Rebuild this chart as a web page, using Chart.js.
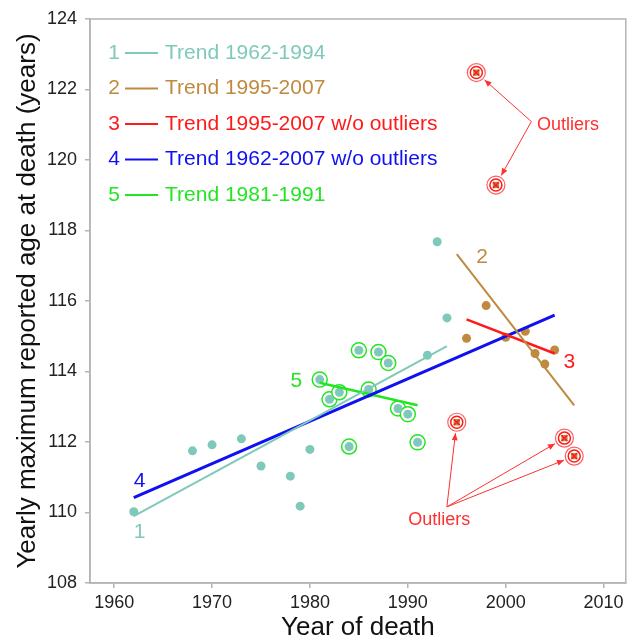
<!DOCTYPE html>
<html>
<head>
<meta charset="utf-8">
<script src="https://cdn.jsdelivr.net/npm/chart.js@4.4.0/dist/chart.umd.min.js"></script>
<style>
  body { margin: 0; background: #fff; }
  #wrap { width: 636px; height: 641px; }
</style>
</head>
<body>
<div id="wrap"><canvas id="myChart" width="636" height="641"></canvas></div>
<script>
// ===== data =====
const earlyYears = [1962, 1968, 1970, 1973, 1975, 1978, 1979, 1980, 1981, 1982, 1983, 1984, 1985, 1986, 1987, 1988, 1989, 1990, 1991, 1992, 1993, 1994];
const earlyAges  = [110.02, 111.75, 111.92, 112.09, 111.32, 111.03, 110.18, 111.79, 113.77, 113.21, 113.41, 111.87, 114.6, 113.49, 114.55, 114.24, 112.95, 112.79, 111.99, 114.46, 117.68, 115.52];
const lateYears = [1996, 1998, 2000, 2002, 2003, 2004, 2005];
const lateAges  = [114.94, 115.87, 114.97, 115.14, 114.51, 114.21, 114.61];
const outlierYears = [1995, 1997, 1999, 2006, 2007];
const outlierAges  = [112.56, 122.48, 119.29, 112.11, 111.6];
const circledYears = [1981, 1982, 1983, 1984, 1985, 1986, 1987, 1988, 1989, 1990, 1991];

// trend lines (end points)
const trend1Years = [1962, 1994];   const trend1Ages = [109.9, 114.72];
const trend2Years = [1995, 2007];   const trend2Ages = [117.33, 113.04];
const trend3Years = [1996, 2005];   const trend3Ages = [115.48, 114.51];
const trend4Years = [1962, 2005];   const trend4Ages = [110.42, 115.6];
const trend5Years = [1981, 1991];   const trend5Ages = [113.68, 113.04];

const legendLabels = ["Trend 1962-1994", "Trend 1995-2007", "Trend 1995-2007 w/o outliers", "Trend 1962-2007 w/o outliers", "Trend 1981-1991"];
const xTicks = [1960, 1970, 1980, 1990, 2000, 2010];
const yTicks = [108, 110, 112, 114, 116, 118, 120, 122, 124];

// colours
const TEAL = "#7fc9bb", BROWN = "#bf8a3f", RED = "#ff1a1a", BLUE = "#1010f0", GREEN = "#22e622";
const trendColors = [TEAL, BROWN, RED, BLUE, GREEN];
const FONT = "'Liberation Sans', Arial, sans-serif";

function pts(xs, ys) { return xs.map((x, i) => ({x: x, y: ys[i]})); }
const circledAges = circledYears.map(y => earlyAges[earlyYears.indexOf(y)]);

function trendSet(xs, ys, color, width) {
    return {
        type: "line", data: pts(xs, ys), borderColor: color, borderWidth: width,
        pointRadius: 0, fill: false, order: 1
    };
}

// legend + annotations drawn on the canvas
const notesPlugin = {
    id: "notes",
    afterDatasetsDraw(chart) {
        const ctx = chart.ctx, xs = chart.scales.x, ys = chart.scales.y, a = chart.chartArea;
        ctx.save();

        // frame (top + right)
        ctx.strokeStyle = "#b4b4b4";
        ctx.lineWidth = 1.5;
        ctx.strokeRect(a.left, a.top, a.right - a.left, a.bottom - a.top);

        // numbers next to the lines
        ctx.font = "21px " + FONT;
        ctx.textAlign = "center";
        ctx.textBaseline = "middle";
        const nums = [["1", TEAL, 1962.6, 109.45], ["4", BLUE, 1962.6, 110.9], ["5", GREEN, 1978.6, 113.73],
                      ["2", BROWN, 1997.6, 117.25], ["3", RED, 2006.5, 114.27]];
        nums.forEach(n => {
            ctx.fillStyle = n[1];
            ctx.fillText(n[0], xs.getPixelForValue(n[2]), ys.getPixelForValue(n[3]));
        });

        // legend
        legendLabels.forEach((lab, i) => {
            const y = a.top + 34 + i * 35.5;
            ctx.fillStyle = trendColors[i];
            ctx.strokeStyle = trendColors[i];
            ctx.textAlign = "center";
            ctx.fillText(String(i + 1), a.left + 24, y);
            ctx.lineWidth = 2;
            ctx.beginPath();
            ctx.moveTo(a.left + 35, y);
            ctx.lineTo(a.left + 68, y);
            ctx.stroke();
            ctx.textAlign = "left";
            ctx.fillText(lab, a.left + 75, y);
        });

        // outlier arrows
        ctx.strokeStyle = "#ff3030";
        ctx.fillStyle = "#ff3030";
        ctx.lineWidth = 1;
        const groups = [
            {from: [2002.62, 121.09], to: [1, 2], text: [2003.2, 120.99, "left"]},
            {from: [1993.99, 110.16], to: [0, 3, 4], text: [1993.2, 109.78, "center"]}
        ];
        groups.forEach(g => {
            const x0 = xs.getPixelForValue(g.from[0]), y0 = ys.getPixelForValue(g.from[1]);
            g.to.forEach(k => {
                const x1 = xs.getPixelForValue(outlierYears[k]), y1 = ys.getPixelForValue(outlierAges[k]);
                const d = Math.hypot(x1 - x0, y1 - y0), ux = (x1 - x0) / d, uy = (y1 - y0) / d;
                const ex = x1 - ux * 11, ey = y1 - uy * 11;
                ctx.beginPath();
                ctx.moveTo(x0, y0);
                ctx.lineTo(ex, ey);
                ctx.stroke();
                ctx.beginPath();
                ctx.moveTo(ex, ey);
                ctx.lineTo(ex - ux * 7 - uy * 3, ey - uy * 7 + ux * 3);
                ctx.lineTo(ex - ux * 7 + uy * 3, ey - uy * 7 - ux * 3);
                ctx.closePath();
                ctx.fill();
            });
            ctx.font = "18px " + FONT;
            ctx.textAlign = g.text[2];
            ctx.fillText("Outliers", xs.getPixelForValue(g.text[0]), ys.getPixelForValue(g.text[1]));
        });
        ctx.restore();
    }
};

new Chart(document.getElementById("myChart"), {
    type: "scatter",
    data: {
        datasets: [
            trendSet(trend1Years, trend1Ages, TEAL, 2),
            trendSet(trend2Years, trend2Ages, BROWN, 2),
            trendSet(trend3Years, trend3Ages, RED, 2.5),
            trendSet(trend4Years, trend4Ages, BLUE, 3),
            trendSet(trend5Years, trend5Ages, GREEN, 2.5),
            // points
            {data: pts(earlyYears, earlyAges), backgroundColor: TEAL, borderWidth: 0, pointRadius: 4.5, order: 5},
            {data: pts(lateYears, lateAges), backgroundColor: BROWN, borderWidth: 0, pointRadius: 4.5, order: 5},
            // outliers: brown square, red x, two red rings
            {data: pts(outlierYears, outlierAges), pointStyle: "crossRot", borderColor: RED, borderWidth: 1.5, pointRadius: 4, order: 4},
            {data: pts(outlierYears, outlierAges), pointStyle: "rect", backgroundColor: BROWN, borderWidth: 0, pointRadius: 4.5, order: 6},
            {data: pts(outlierYears, outlierAges), backgroundColor: "rgba(0,0,0,0)", borderColor: RED, borderWidth: 1.5, pointRadius: 6, order: 6},
            {data: pts(outlierYears, outlierAges), backgroundColor: "rgba(0,0,0,0)", borderColor: "rgba(255,40,40,0.75)", borderWidth: 1.2, pointRadius: 9, order: 6},
            // green rings round 1981-1991
            {data: pts(circledYears, circledAges), backgroundColor: "#fff", borderColor: GREEN, borderWidth: 1.5, pointRadius: 7.5, order: 7}
        ]
    },
    options: {
        responsive: false,
        animation: false,
        events: [],
        layout: {padding: {top: 19, right: 3, left: 0, bottom: 0}},
        plugins: {legend: {display: false}, tooltip: {enabled: false}},
        scales: {
            x: {
                type: "linear", min: 1957.53, max: 2012.27,
                afterBuildTicks: s => { s.ticks = xTicks.map(v => ({value: v})); },
                afterFit: s => { s.height = 58; },
                grid: {drawOnChartArea: false, tickLength: 5, color: "#b4b4b4", lineWidth: 1.5},
                border: {color: "#b4b4b4", width: 1.5},
                ticks: {color: "#222", padding: 4, font: {family: FONT, size: 18}, callback: v => String(v)},
                title: {display: true, text: "Year of death", color: "#111",
                        font: {family: FONT, size: 26, lineHeight: 1.0}, padding: {top: 0, bottom: 0}}
            },
            y: {
                min: 108, max: 124,
                afterBuildTicks: s => { s.ticks = yTicks.map(v => ({value: v})); },
                afterFit: s => { s.width = 90; },
                grid: {drawOnChartArea: false, tickLength: 5, color: "#b4b4b4", lineWidth: 1.5},
                border: {color: "#b4b4b4", width: 1.5},
                ticks: {color: "#222", padding: 8, font: {family: FONT, size: 18}, callback: v => String(v)},
                title: {display: true, text: "Yearly maximum reported age at death (years)", color: "#111",
                        font: {family: FONT, size: 26, lineHeight: 1.2}, padding: {top: 12, bottom: 0}}
            }
        }
    },
    plugins: [notesPlugin]
});
</script>
</body>
</html>
